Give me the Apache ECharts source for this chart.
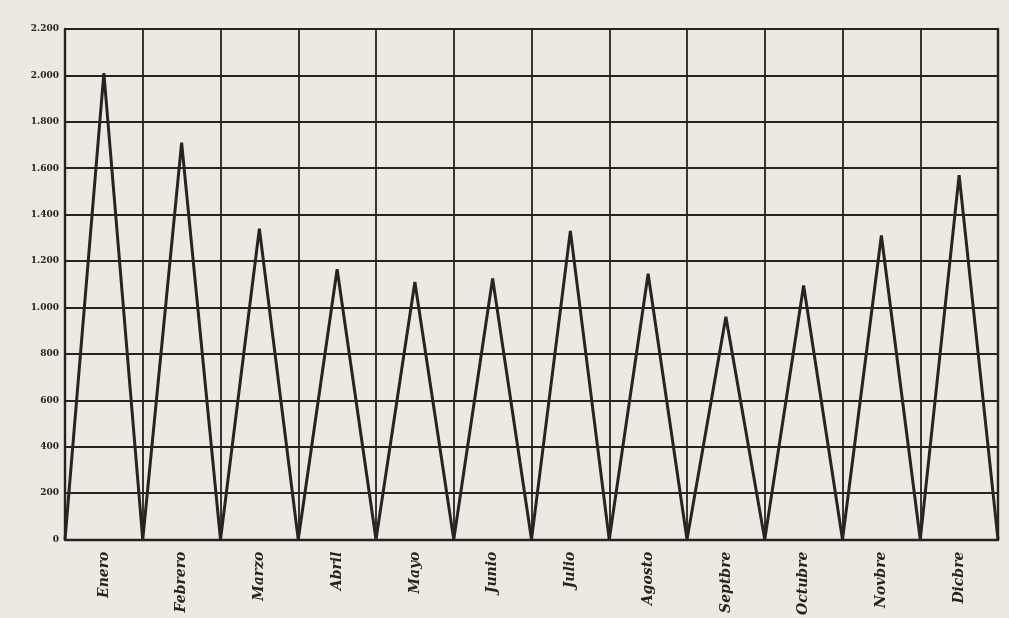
<!DOCTYPE html>
<html>
<head>
<meta charset="utf-8">
<script src="https://cdn.jsdelivr.net/npm/echarts@6/dist/echarts.min.js"></script>
<style>
  html, body { margin: 0; padding: 0; background: #ece8e2; }
  #chart { width: 1009px; height: 618px; }
</style>
</head>
<body>
<div id="chart"></div>
<script>
// months as written on the original sheet
const months = ['Enero', 'Febrero', 'Marzo', 'Abril', 'Mayo', 'Junio',
  'Julio', 'Agosto', 'Septbre', 'Octubre', 'Novbre', 'Dicbre'];
// peak value of each month
const peaks = [2010, 1710, 1340, 1165, 1110, 1125, 1330, 1145, 960, 1095, 1310, 1570];
// y tick range
const yMin = 0;
const yMax = 2200;
const yStep = 200;

const ink = '#262320';

// zigzag: 0 at each month boundary, peak in the middle of the month
const zigzag = [[0, 0]];
peaks.forEach((v, i) => {
  zigzag.push([i + 0.5, v]);
  zigzag.push([i + 1, 0]);
});

const chart = echarts.init(document.getElementById('chart'));

chart.setOption({
  backgroundColor: '#ece8e2',
  animation: false,
  grid: { left: 65, right: 11, top: 29, bottom: 75 },
  xAxis: [
    {
      type: 'category',
      data: months,
      boundaryGap: true,
      axisLine: { show: true, lineStyle: { color: ink, width: 2.4 } },
      axisTick: { show: false },
      splitLine: { show: true, lineStyle: { color: ink, width: 1.8 } },
      axisLabel: {
        rotate: 90,
        margin: 12,
        color: ink,
        fontFamily: 'DejaVu Serif',
        fontStyle: 'italic',
        fontWeight: 'bold',
        fontSize: 14
      }
    },
    { type: 'value', min: 0, max: months.length, show: false }
  ],
  yAxis: [
    {
      type: 'value',
      min: yMin,
      max: yMax,
      interval: yStep,
      axisLine: { show: true, lineStyle: { color: ink, width: 2.4 } },
      axisTick: { show: false },
      splitLine: { show: true, lineStyle: { color: ink, width: 1.8 } },
      axisLabel: {
        margin: 6,
        color: ink,
        fontFamily: 'DejaVu Serif',
        fontWeight: 'bold',
        fontSize: 9,
        formatter: v => String(v).replace(/\B(?=(\d{3})+(?!\d))/g, '.')
      }
    },
    {
      type: 'value',
      position: 'right',
      min: yMin,
      max: yMax,
      axisLine: { show: true, lineStyle: { color: ink, width: 2.4 } },
      axisTick: { show: false },
      axisLabel: { show: false },
      splitLine: { show: false }
    }
  ],
  series: [
    {
      type: 'line',
      xAxisIndex: 1,
      yAxisIndex: 0,
      data: zigzag,
      symbol: 'none',
      lineStyle: { color: ink, width: 3 }
    }
  ]
});
</script>
</body>
</html>
